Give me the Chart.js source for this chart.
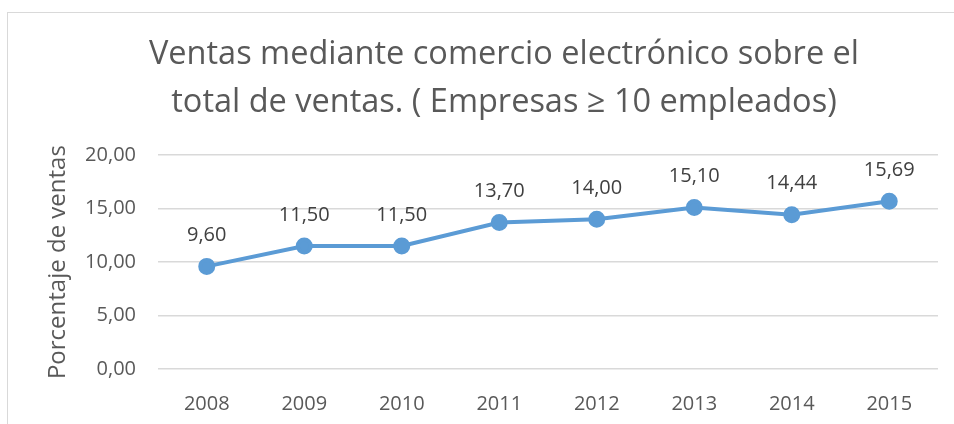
<!DOCTYPE html>
<html>
<head>
<meta charset="utf-8">
<script src="https://cdn.jsdelivr.net/npm/chart.js@4/dist/chart.umd.min.js"></script>
<style>
  body { margin: 0; background: #fff; }
  #wrap { position: relative; width: 954px; height: 424px; overflow: hidden; }
  #frame { position: absolute; left: 7px; top: 12px; width: 1000px; height: 500px; border: 1px solid #d9d9d9; }
  canvas { position: absolute; left: 0; top: 0; }
</style>
</head>
<body>
<div id="wrap">
  <div id="frame"></div>
  <canvas id="myChart" width="954" height="424"></canvas>
</div>
<script>
var years = ["2008", "2009", "2010", "2011", "2012", "2013", "2014", "2015"];
var ventas = [9.60, 11.50, 11.50, 13.70, 14.00, 15.10, 14.44, 15.69];
var yTicks = [0, 5, 10, 15, 20];

var fontName = "'Open Sans', 'Noto Sans', sans-serif";
var lineColor = "#5b9bd5";

function fmt(v) {
	return v.toFixed(2).replace(".", ",");
}

// etiquetas encima de cada punto
const valueLabels = {
	id: "valueLabels",
	afterDatasetsDraw(chart) {
		const ctx = chart.ctx;
		const meta = chart.getDatasetMeta(0);
		ctx.save();
		ctx.font = "20px " + fontName;
		ctx.fillStyle = "#404040";
		ctx.textAlign = "center";
		ctx.textBaseline = "middle";
		meta.data.forEach(function (pt, i) {
			ctx.fillText(fmt(ventas[i]), pt.x, pt.y - 31);
		});
		ctx.restore();
	}
};

const myChart = new Chart(document.getElementById("myChart"), {
	type: "line",
	data: {
		labels: years,
		datasets: [
			{
				data: ventas,
				borderColor: lineColor,
				backgroundColor: lineColor,
				borderWidth: 4,
				pointRadius: 6.5,
				pointHoverRadius: 6.5,
				tension: 0,
			},
		],
	},
	options: {
		responsive: false,
		animation: false,
		layout: { padding: { left: 70, right: 16, top: 31, bottom: 0 } },
		plugins: {
			legend: { display: false },
			tooltip: { enabled: false },
			title: {
				display: true,
				text: ["Ventas mediante comercio electrónico sobre el", "total de ventas. ( Empresas ≥ 10 empleados)"],
				color: "#595959",
				font: { family: fontName, size: 32.5, weight: "normal", lineHeight: 1.48 },
				padding: { top: 0, bottom: 28 },
			},
		},
		scales: {
			x: {
				offset: true,
				afterFit: function (scale) { scale.height = 55; },
				grid: { display: false },
				border: { display: false },
				ticks: {
					color: "#595959",
					font: { family: fontName, size: 20 },
					padding: 15,
				},
			},
			y: {
				min: 0,
				max: 20,
				afterFit: function (scale) { scale.width = 88; },
				afterBuildTicks: function (scale) {
					scale.ticks = yTicks.map(function (v) { return { value: v }; });
				},
				grid: { color: "#d9d9d9", lineWidth: 1.5, drawTicks: false },
				border: { display: false },
				ticks: {
					color: "#595959",
					font: { family: fontName, size: 20 },
					padding: 22,
					callback: function (v) { return fmt(v); },
				},
				title: {
					display: true,
					text: "Porcentaje de ventas",
					color: "#595959",
					font: { family: fontName, size: 24 },
					padding: { top: -26, bottom: 0 },
				},
			},
		},
	},
	plugins: [valueLabels],
});
</script>
</body>
</html>
